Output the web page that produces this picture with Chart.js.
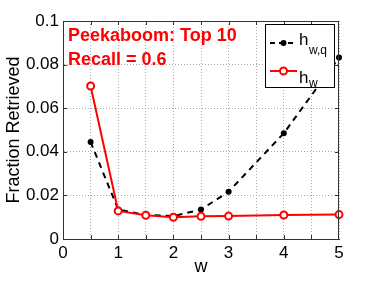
<!DOCTYPE html>
<html>
<head>
<meta charset="utf-8">
<script src="https://cdn.jsdelivr.net/npm/chart.js@4"></script>
<style>
  body { margin: 0; background: #fff; }
  .chart-container { width: 374px; height: 281px; }
</style>
</head>
<body>
<div class="chart-container">
  <canvas id="chart" width="374" height="281"></canvas>
</div>
<script>
  // values
  const wValues = [0.5, 1, 1.5, 2, 2.5, 3, 4, 5]
  const hwq = [0.0445, 0.0135, 0.011, 0.0105, 0.0135, 0.0217, 0.0485, 0.0832]
  const hw = [0.0702, 0.0129, 0.0109, 0.0100, 0.0104, 0.0105, 0.0110, 0.0112]
  const xTicks = [0, 1, 2, 3, 4, 5]
  const yTicks = [0, 0.02, 0.04, 0.06, 0.08, 0.1]

  const FONT = '"Liberation Sans", Arial, sans-serif'

  const toPoints = (ys) => wValues.map((w, i) => ({ x: w, y: ys[i] }))

  // box, inward ticks, legend and note text
  const frame = {
    id: 'frame',
    afterDatasetsDraw(chart) {
      const { ctx, chartArea: a, scales: { x, y } } = chart
      ctx.save()
      ctx.setLineDash([])
      ctx.strokeStyle = '#333'
      ctx.lineWidth = 1
      ctx.strokeRect(a.left + 0.5, a.top + 0.5, a.right - a.left - 1, a.bottom - a.top)

      ctx.beginPath()
      for (let v = 0.5; v < 5; v += 0.5) {
        const px = Math.round(x.getPixelForValue(v)) + 0.5
        ctx.moveTo(px, a.bottom); ctx.lineTo(px, a.bottom - 4)
        ctx.moveTo(px, a.top); ctx.lineTo(px, a.top + 4)
      }
      yTicks.slice(1, -1).forEach(v => {
        const py = Math.round(y.getPixelForValue(v)) + 0.5
        ctx.moveTo(a.left, py); ctx.lineTo(a.left + 4, py)
        ctx.moveTo(a.right, py); ctx.lineTo(a.right - 4, py)
      })
      ctx.stroke()

      // note
      ctx.fillStyle = '#ff0000'
      ctx.font = 'bold 18px ' + FONT
      ctx.textBaseline = 'alphabetic'
      ctx.fillText('Peekaboom: Top 10', 68, 41)
      ctx.fillText('Recall = 0.6', 68, 65)

      // legend
      const lx = 265, ly = 24, lw = 69, lh = 63
      ctx.fillStyle = '#fff'
      ctx.fillRect(lx, ly, lw, lh)
      ctx.strokeStyle = '#000'
      ctx.strokeRect(lx + 0.5, ly + 0.5, lw, lh)

      ctx.lineWidth = 2
      ctx.strokeStyle = '#000'
      ctx.setLineDash([5, 4])
      ctx.beginPath(); ctx.moveTo(270, 43); ctx.lineTo(297, 43); ctx.stroke()
      ctx.setLineDash([])
      ctx.fillStyle = '#000'
      ctx.beginPath(); ctx.arc(283.5, 43, 3, 0, Math.PI * 2); ctx.fill()

      ctx.strokeStyle = '#ff0000'
      ctx.beginPath(); ctx.moveTo(270, 71); ctx.lineTo(297, 71); ctx.stroke()
      ctx.fillStyle = '#fff'
      ctx.beginPath(); ctx.arc(283.5, 71, 3.5, 0, Math.PI * 2); ctx.fill(); ctx.stroke()

      ctx.fillStyle = '#000'
      ctx.font = '17px ' + FONT
      ctx.fillText('h', 299, 45)
      ctx.fillText('h', 299, 83)
      ctx.font = '12px ' + FONT
      ctx.fillText('w,q', 309, 54)
      ctx.fillText('w', 309, 87)
      ctx.restore()
    }
  }

  const config = {
    type: 'line',
    data: {
      datasets: [
        {
          label: 'h_w',
          data: toPoints(hw),
          borderColor: '#ff0000',
          backgroundColor: 'rgba(0,0,0,0)',
          borderWidth: 2,
          pointRadius: 3.5,
          pointBorderWidth: 2,
          pointBorderColor: '#ff0000',
          pointBackgroundColor: '#fff',
          tension: 0,
          order: 0
        },
        {
          label: 'h_w,q',
          data: toPoints(hwq),
          borderColor: '#000',
          backgroundColor: '#000',
          borderWidth: 2,
          borderDash: [6, 5],
          pointRadius: 3,
          pointBorderWidth: 0,
          pointBackgroundColor: '#000',
          tension: 0,
          order: 1
        }
      ]
    },
    options: {
      responsive: false,
      animation: false,
      clip: false,
      layout: { padding: { left: 0, top: 21, right: 35, bottom: 0 } },
      plugins: {
        legend: { display: false },
        tooltip: { enabled: false }
      },
      scales: {
        x: {
          type: 'linear',
          min: 0,
          max: 5,
          afterFit: (s) => { s.height = 42 },
          afterBuildTicks: (s) => {
            s.ticks = []
            for (let v = 0; v <= 5; v += 0.5) s.ticks.push({ value: v })
          },
          ticks: {
            autoSkip: false,
            maxRotation: 0,
            padding: 4,
            color: '#000',
            font: { family: FONT, size: 17 },
            callback: (v) => xTicks.includes(v) ? String(v) : ''
          },
          grid: { color: '#aaa', lineWidth: 1, drawTicks: false },
          border: { display: true, color: '#333', dash: [1, 2] },
          title: {
            display: true,
            text: 'w',
            color: '#000',
            font: { family: FONT, size: 18 },
            padding: { top: 0, bottom: 3 }
          }
        },
        y: {
          min: 0,
          max: 0.1,
          afterFit: (s) => { s.width = 63 },
          afterBuildTicks: (s) => { s.ticks = yTicks.map(v => ({ value: v })) },
          ticks: {
            padding: 4,
            color: '#000',
            font: { family: FONT, size: 17 },
            callback: (v) => v === 0 ? '0' : String(+v.toFixed(2))
          },
          grid: { color: '#aaa', lineWidth: 1, drawTicks: false },
          border: { display: true, color: '#333', dash: [1, 2] },
          title: {
            display: true,
            text: 'Fraction Retrieved',
            color: '#000',
            font: { family: FONT, size: 18 },
            padding: { top: 3, bottom: 0 }
          }
        }
      }
    },
    plugins: [frame]
  }

  const chart = new Chart(document.getElementById('chart'), config)
</script>
</body>
</html>
